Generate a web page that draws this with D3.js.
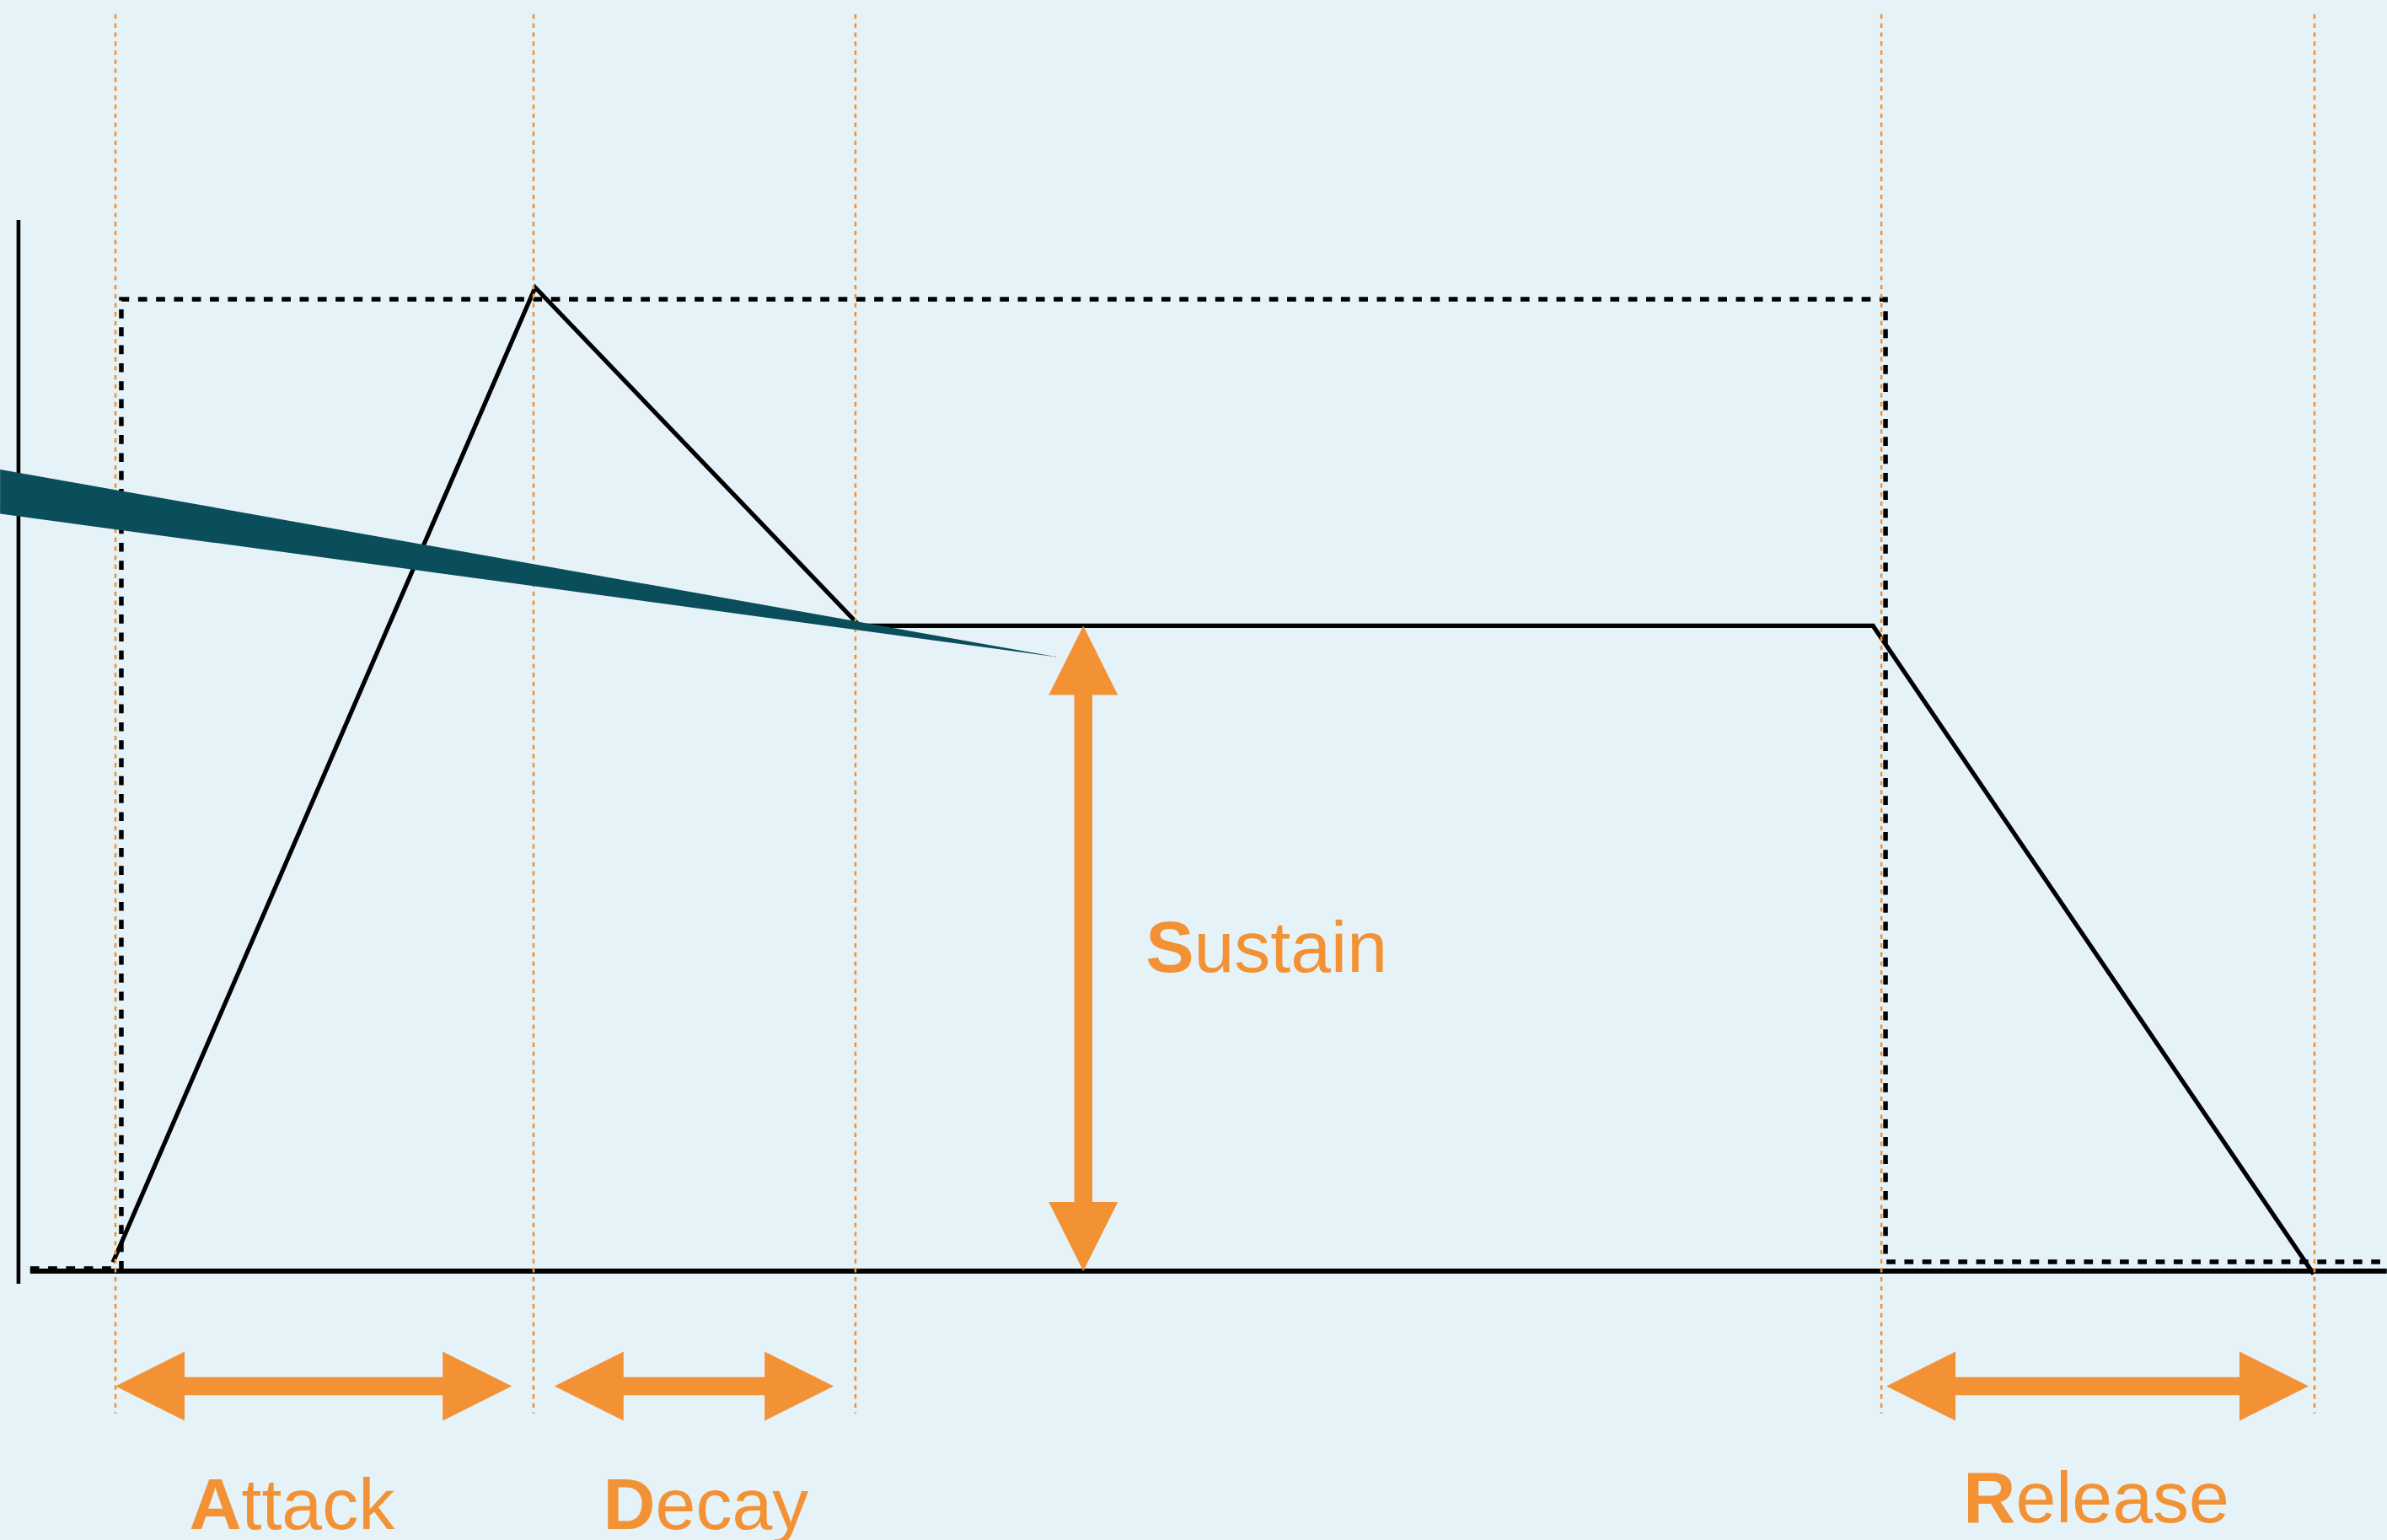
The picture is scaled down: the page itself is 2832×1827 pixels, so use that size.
<!DOCTYPE html>
<html>
<head>
<meta charset="utf-8">
<script src="https://cdn.jsdelivr.net/npm/d3@7.9.0/dist/d3.min.js"></script>
<style>
  html, body { margin: 0; padding: 0; background: #e5f2f8; }
  svg { display: block; }
  text { font-family: "Liberation Sans", Arial, Helvetica, sans-serif; }
</style>
</head>
<body>
<div id="chart"></div>
<script>
// ADSR envelope diagram
// time in ms (note-on at 0), level 0..1

// ---- data ----
const phaseTimes = [0, 100, 177, 422.4, 526]; // attack start, peak, decay end, note-off, release end

const envelopeTime = [-0.6, 100.4, 178, 420.4, 525.8];
const envelopeLevel = [0.009, 1.0, 0.656, 0.656, -0.003];

const gateTime = [-20.4, 1.4, 1.4, 423.4, 423.4, 543.3];
const gateLevel = [0.0026, 0.0026, 0.988, 0.988, 0.0094, 0.0094];

const axisTime = -23.2;
const axisLevels = [1.0686, -0.0129];
const baselineTime = [-20.4, 543.3];

// the dark teal wedge crossing the chart
const wedgeTime = [-27.6, -27.6, 225.6];
const wedgeLevel = [0.815, 0.770, 0.624];

// sustain arrow: at one time, from sustain level to 0
const sustainArrow = { t: 231.5, from: 0.656, to: 0 };

// horizontal phase arrows
const phaseArrowLevel = -0.117;
const phaseArrows = [
  { name: "Attack", t0: 0, t1: 94.8 },
  { name: "Decay", t0: 105, t1: 171.8 },
  { name: "Release", t0: 423.6, t1: 524.6 },
];

// labels (first letter bold)
const labels = [
  { text: "Attack", t: 42.2, level: -0.262 },
  { text: "Decay", t: 141.2, level: -0.262 },
  { text: "Release", t: 473.8, level: -0.255 },
  { text: "Sustain", t: 246.4, level: 0.304, anchor: "start" },
];

// ---- layout ----
const width = 2832;
const height = 1827;
const orange = "#f39234";
const teal = "#0a4e5b";

const x = d3.scaleLinear().domain([0, 100]).range([137, 633]);
const y = d3.scaleLinear().domain([0, 1]).range([1508, 341]);

const svg = d3
  .select("#chart")
  .append("svg")
  .attr("width", width)
  .attr("height", height)
  .attr("viewBox", `0 0 ${width} ${height}`);

svg.append("rect").attr("width", width).attr("height", height).attr("fill", "#e5f2f8");

const line = d3
  .line()
  .x((d) => x(d[0]))
  .y((d) => y(d[1]));

// baseline + vertical axis
svg
  .append("path")
  .attr("d", line(baselineTime.map((t) => [t, 0])))
  .attr("stroke", "#000")
  .attr("stroke-width", 5.8)
  .attr("fill", "none");

svg
  .append("path")
  .attr("d", line(axisLevels.map((l) => [axisTime, l])))
  .attr("stroke", "#000")
  .attr("stroke-width", 4.6)
  .attr("fill", "none");

// envelope
svg
  .append("path")
  .attr("d", line(d3.zip(envelopeTime, envelopeLevel)))
  .attr("stroke", "#000")
  .attr("stroke-width", 5.2)
  .attr("stroke-linejoin", "miter")
  .attr("fill", "none");

// gate (dotted)
svg
  .append("path")
  .attr("d", line(d3.zip(gateTime, gateLevel)))
  .attr("stroke", "#000")
  .attr("stroke-width", 5.5)
  .attr("stroke-dasharray", "10.7,10.6")
  .attr("fill", "none");

// phase boundaries (orange dashed)
svg
  .append("g")
  .selectAll("line")
  .data(phaseTimes)
  .join("line")
  .attr("x1", (d) => x(d))
  .attr("x2", (d) => x(d))
  .attr("y1", 17)
  .attr("y2", 1677)
  .attr("stroke", orange)
  .attr("stroke-width", 2.6)
  .attr("stroke-dasharray", "5.3,5.4");

// teal wedge
svg
  .append("path")
  .attr("d", line(d3.zip(wedgeTime, wedgeLevel)) + "Z")
  .attr("fill", teal);

// ---- arrows ----
const headLen = 82;
const headHalf = 41;
const shaftHalf = 10.7;

// double arrow between two pixel points (horizontal or vertical)
function doubleArrow(p0, p1) {
  const dx = p1[0] - p0[0];
  const dy = p1[1] - p0[1];
  const len = Math.hypot(dx, dy);
  const ux = dx / len, uy = dy / len;
  const nx = -uy, ny = ux;
  const at = (s, n) => [p0[0] + ux * s + nx * n, p0[1] + uy * s + ny * n];
  const pts = [
    at(0, 0),
    at(headLen, headHalf),
    at(headLen, shaftHalf),
    at(len - headLen, shaftHalf),
    at(len - headLen, headHalf),
    at(len, 0),
    at(len - headLen, -headHalf),
    at(len - headLen, -shaftHalf),
    at(headLen, -shaftHalf),
    at(headLen, -headHalf),
  ];
  return "M" + pts.map((p) => p.join(",")).join("L") + "Z";
}

const arrows = svg.append("g").attr("fill", orange);

arrows
  .append("path")
  .attr("d", doubleArrow(
    [x(sustainArrow.t), y(sustainArrow.from)],
    [x(sustainArrow.t), y(sustainArrow.to)]
  ));

arrows
  .selectAll("path.phase")
  .data(phaseArrows)
  .join("path")
  .attr("class", "phase")
  .attr("d", (d) => doubleArrow([x(d.t0), y(phaseArrowLevel)], [x(d.t1), y(phaseArrowLevel)]));

// ---- labels ----
const texts = svg
  .append("g")
  .selectAll("text")
  .data(labels)
  .join("text")
  .attr("x", (d) => x(d.t))
  .attr("y", (d) => y(d.level))
  .attr("text-anchor", (d) => d.anchor || "middle")
  .attr("font-size", 86)
  .attr("fill", orange);

texts.append("tspan").attr("font-weight", "bold").text((d) => d.text[0]);
texts.append("tspan").text((d) => d.text.slice(1));
</script>
</body>
</html>
